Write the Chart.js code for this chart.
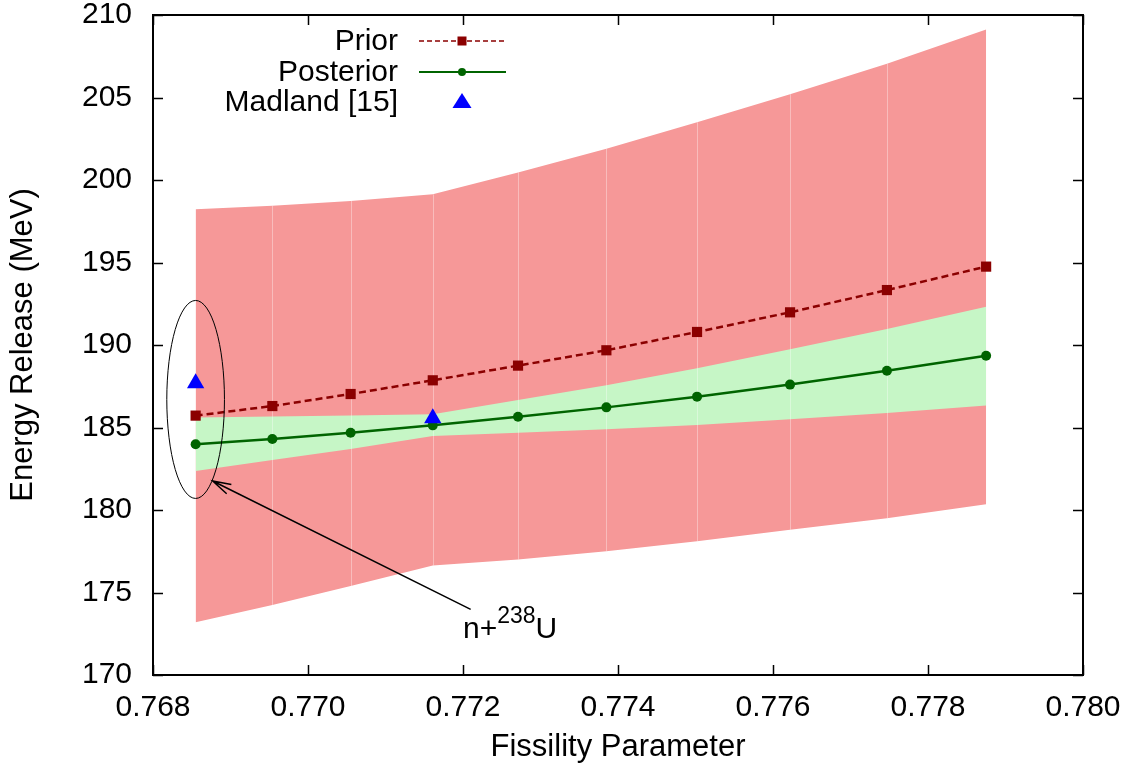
<!DOCTYPE html>
<html>
<head>
<meta charset="utf-8">
<script src="https://cdn.jsdelivr.net/npm/chart.js@4.4.1/dist/chart.umd.min.js"></script>
<style>
html, body { margin: 0; padding: 0; background: #fff; }
#wrap { width: 1135px; height: 775px; }
</style>
</head>
<body>
<div id="wrap"><canvas id="chart" width="1135" height="775"></canvas></div>
<script>
// values
const fissility = [0.76855, 0.76954, 0.77055, 0.77161, 0.77271, 0.77385, 0.77502, 0.77622, 0.77747, 0.77875];
const priorMean = [185.72, 186.30, 187.03, 187.86, 188.75, 189.68, 190.79, 191.98, 193.33, 194.75];
const priorUpper = [198.22, 198.44, 198.73, 199.13, 200.46, 201.9, 203.5, 205.2, 207.05, 209.12];
const priorLower = [173.19, 174.24, 175.39, 176.63, 177.0, 177.5, 178.1, 178.8, 179.5, 180.35];
const posteriorMean = [183.98, 184.30, 184.68, 185.13, 185.65, 186.22, 186.87, 187.60, 188.44, 189.35];
const posteriorUpper = [185.60, 185.67, 185.73, 185.80, 186.67, 187.56, 188.59, 189.74, 190.97, 192.32];
const posteriorLower = [182.36, 183.03, 183.70, 184.48, 184.68, 184.89, 185.15, 185.50, 185.88, 186.33];
const madlandX = [0.76855, 0.77161];
const madlandY = [187.68, 185.56];
const xTicks = [0.768, 0.770, 0.772, 0.774, 0.776, 0.778, 0.780];
const yTicks = [170, 175, 180, 185, 190, 195, 200, 205, 210];

const FONT = 'Liberation Sans, Arial, Helvetica, sans-serif';
const BAND_RED = 'rgb(246,152,152)';
const BAND_GREEN = 'rgb(198,246,198)';
const PRIOR_COL = 'rgb(139,0,0)';
const POST_COL = 'rgb(0,100,0)';

function pts(xs, ys) {
    return xs.map((x, i) => ({ x: x, y: ys[i] }));
}

// frame + gnuplot style inward ticks on all four sides
const framePlugin = {
    id: 'frame',
    afterDraw(chart) {
        const { ctx, chartArea: a, scales } = chart;
        ctx.save();
        ctx.strokeStyle = '#000';
        ctx.lineWidth = 1.5;
        ctx.beginPath();
        xTicks.forEach(v => {
            const px = Math.round(scales.x.getPixelForValue(v)) + 0.5;
            ctx.moveTo(px, a.bottom); ctx.lineTo(px, a.bottom - 10);
            ctx.moveTo(px, a.top); ctx.lineTo(px, a.top + 10);
        });
        yTicks.forEach(v => {
            const py = Math.round(scales.y.getPixelForValue(v)) + 0.5;
            ctx.moveTo(a.left, py); ctx.lineTo(a.left + 10, py);
            ctx.moveTo(a.right, py); ctx.lineTo(a.right - 10, py);
        });
        ctx.stroke();
        ctx.lineWidth = 2;
        ctx.strokeRect(a.left, a.top, a.right - a.left, a.bottom - a.top);
        ctx.restore();
    }
};

// faint seams inside the filled band (as in the original rendering)
const seamPlugin = {
    id: 'seams',
    afterDatasetDraw(chart, args) {
        if (args.index !== 3) return;
        const { ctx, scales } = chart;
        ctx.save();
        ctx.strokeStyle = 'rgba(255,255,255,0.35)';
        ctx.lineWidth = 1;
        ctx.beginPath();
        for (let i = 1; i < fissility.length - 1; i++) {
            const px = Math.round(scales.x.getPixelForValue(fissility[i])) + 0.5;
            ctx.moveTo(px, scales.y.getPixelForValue(priorLower[i]));
            ctx.lineTo(px, scales.y.getPixelForValue(priorUpper[i]));
        }
        ctx.stroke();
        ctx.restore();
    }
};

// ellipse around the n+238U point, arrow and label
const notePlugin = {
    id: 'note',
    afterDraw(chart) {
        const { ctx, scales } = chart;
        const X = v => scales.x.getPixelForValue(v);
        const Y = v => scales.y.getPixelForValue(v);
        ctx.save();
        ctx.strokeStyle = '#000';
        ctx.lineWidth = 1;
        const cx = X(0.76855), cy = Y(186.7);
        const rx = X(0.76855 + 0.000372) - cx, ry = cy - Y(186.7 + 6.0);
        ctx.beginPath();
        ctx.ellipse(cx, cy, rx, ry, 0, 0, Math.PI * 2);
        ctx.stroke();

        const x0 = X(0.772099), y0 = Y(173.98);
        const x1 = X(0.76877), y1 = Y(181.76);
        ctx.lineWidth = 1.5;
        ctx.beginPath();
        ctx.moveTo(x0, y0); ctx.lineTo(x1, y1);
        const ang = Math.atan2(y0 - y1, x0 - x1);
        const hl = 19, spread = 0.28;
        ctx.moveTo(x1 + hl * Math.cos(ang - spread), y1 + hl * Math.sin(ang - spread));
        ctx.lineTo(x1, y1);
        ctx.lineTo(x1 + hl * Math.cos(ang + spread), y1 + hl * Math.sin(ang + spread));
        ctx.stroke();

        const tx = X(0.772), ty = Y(172.24);
        ctx.fillStyle = '#000';
        ctx.textBaseline = 'alphabetic';
        ctx.textAlign = 'left';
        ctx.font = '30px ' + FONT;
        ctx.fillText('n+', tx, ty);
        let w = ctx.measureText('n+').width;
        ctx.font = '23px ' + FONT;
        ctx.fillText('238', tx + w, ty - 15);
        w += ctx.measureText('238').width;
        ctx.font = '30px ' + FONT;
        ctx.fillText('U', tx + w, ty);
        ctx.restore();
    }
};

// key in the top left, text right aligned with sample to the right
const keyPlugin = {
    id: 'key',
    afterDraw(chart) {
        const { ctx } = chart;
        const textX = 398, x0 = 419, x1 = 506, mx = 462;
        const rows = [41, 72, 102];
        ctx.save();
        ctx.font = '30px ' + FONT;
        ctx.fillStyle = '#000';
        ctx.textAlign = 'right';
        ctx.textBaseline = 'middle';
        ctx.fillText('Prior', textX, rows[0] + 1);
        ctx.fillText('Posterior', textX, rows[1] + 1);
        ctx.fillText('Madland [15]', textX, rows[2] + 1);

        ctx.lineWidth = 1.5;
        ctx.strokeStyle = PRIOR_COL;
        ctx.setLineDash([5, 3]);
        ctx.beginPath(); ctx.moveTo(x0, rows[0]); ctx.lineTo(x1, rows[0]); ctx.stroke();
        ctx.setLineDash([]);
        ctx.fillStyle = PRIOR_COL;
        ctx.fillRect(mx - 4.5, rows[0] - 4.5, 9, 9);

        ctx.strokeStyle = POST_COL;
        ctx.lineWidth = 2;
        ctx.beginPath(); ctx.moveTo(x0, rows[1]); ctx.lineTo(x1, rows[1]); ctx.stroke();
        ctx.fillStyle = POST_COL;
        ctx.beginPath(); ctx.arc(mx, rows[1], 4, 0, Math.PI * 2); ctx.fill();

        ctx.fillStyle = '#0000ff';
        ctx.beginPath();
        ctx.moveTo(mx, rows[2] - 9);
        ctx.lineTo(mx + 9.5, rows[2] + 6);
        ctx.lineTo(mx - 9.5, rows[2] + 6);
        ctx.closePath(); ctx.fill();
        ctx.restore();
    }
};

const ctx = document.getElementById('chart').getContext('2d');
new Chart(ctx, {
    type: 'line',
    data: {
        datasets: [
            {
                label: 'Madland [15]',
                data: pts(madlandX, madlandY),
                showLine: false,
                pointStyle: 'triangle',
                pointRadius: 10,
                pointBackgroundColor: '#0000ff',
                pointBorderWidth: 0,
                borderColor: '#0000ff'
            },
            {
                label: 'Prior',
                data: pts(fissility, priorMean),
                borderColor: PRIOR_COL,
                borderWidth: 2.5,
                borderDash: [7, 4],
                pointStyle: 'rect',
                pointRadius: 7.2,
                pointBackgroundColor: PRIOR_COL,
                pointBorderWidth: 0,
                fill: false
            },
            {
                label: 'Posterior',
                data: pts(fissility, posteriorMean),
                borderColor: POST_COL,
                borderWidth: 2.5,
                pointStyle: 'circle',
                pointRadius: 5,
                pointBackgroundColor: POST_COL,
                pointBorderWidth: 0,
                fill: false
            },
            {
                label: 'posterior band',
                data: pts(fissility, posteriorUpper),
                borderWidth: 0,
                pointRadius: 0,
                backgroundColor: BAND_GREEN,
                fill: '+1'
            },
            {
                label: 'posterior band low',
                data: pts(fissility, posteriorLower),
                borderWidth: 0,
                pointRadius: 0,
                fill: false
            },
            {
                label: 'prior band',
                data: pts(fissility, priorUpper),
                borderWidth: 0,
                pointRadius: 0,
                backgroundColor: BAND_RED,
                fill: '+1'
            },
            {
                label: 'prior band low',
                data: pts(fissility, priorLower),
                borderWidth: 0,
                pointRadius: 0,
                fill: false
            }
        ]
    },
    options: {
        responsive: false,
        animation: false,
        devicePixelRatio: 1,
        events: [],
        layout: { padding: { left: 0, right: 52, top: 15, bottom: 0 } },
        plugins: {
            legend: { display: false },
            tooltip: { enabled: false }
        },
        scales: {
            x: {
                type: 'linear',
                min: 0.768,
                max: 0.780,
                afterBuildTicks: s => { s.ticks = xTicks.map(v => ({ value: v })); },
                afterFit: s => { s.height = 100; s.paddingLeft = 0; s.paddingRight = 0; },
                grid: { display: false, drawTicks: false },
                border: { display: false },
                ticks: {
                    color: '#000',
                    font: { family: FONT, size: 30 },
                    padding: 15,
                    maxRotation: 0,
                    callback: v => v.toFixed(3)
                },
                title: {
                    display: true,
                    text: 'Fissility Parameter',
                    color: '#000',
                    font: { family: FONT, size: 31 },
                    padding: { top: 0, bottom: 9 }
                }
            },
            y: {
                type: 'linear',
                min: 170,
                max: 210,
                afterBuildTicks: s => { s.ticks = yTicks.map(v => ({ value: v })); },
                afterFit: s => { s.width = 153; s.paddingTop = 0; s.paddingBottom = 0; },
                grid: { display: false, drawTicks: false },
                border: { display: false },
                ticks: {
                    color: '#000',
                    font: { family: FONT, size: 30 },
                    padding: 21
                },
                title: {
                    display: true,
                    text: 'Energy Release (MeV)',
                    color: '#000',
                    font: { family: FONT, size: 31 },
                    padding: { top: 5, bottom: 0 }
                }
            }
        }
    },
    plugins: [seamPlugin, framePlugin, notePlugin, keyPlugin]
});
</script>
</body>
</html>
